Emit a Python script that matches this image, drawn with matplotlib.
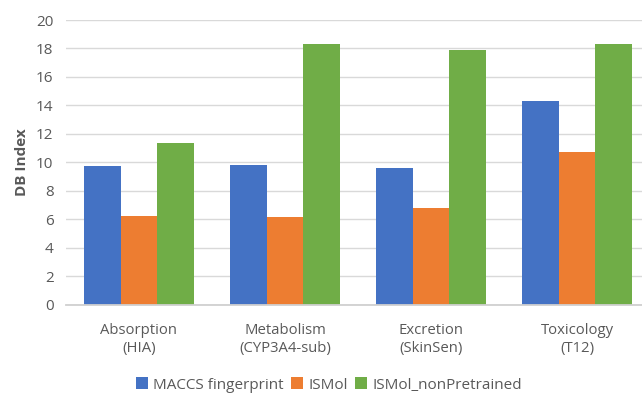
import numpy as np
import matplotlib.pyplot as plt

# data
categories = ['Absorption\n(HIA)', 'Metabolism\n(CYP3A4-sub)', 'Excretion\n(SkinSen)', 'Toxicology\n(T12)']
maccs = [9.75, 9.82, 9.6, 14.32]
ismol = [6.22, 6.15, 6.8, 10.72]
ismol_np = [11.36, 18.32, 17.9, 18.32]
series_names = ['MACCS fingerprint', 'ISMol', 'ISMol_nonPretrained']
colors = ['#4472C4', '#ED7D31', '#70AD47']

plt.rcParams['font.family'] = ['Open Sans', 'DejaVu Sans']
text_col = '#595959'

fig = plt.figure(figsize=(6.42, 3.96), dpi=100)
ax = fig.add_axes([66 / 642, 1 - 304.5 / 396, 584 / 642, 284.5 / 396])

x = np.arange(len(categories))
w = 0.25
for i, (vals, name, c) in enumerate(zip([maccs, ismol, ismol_np], series_names, colors)):
    ax.bar(x + (i - 1) * w, vals, width=w, color=c, label=name, zorder=3)

ax.set_xlim(-0.5, len(categories) - 0.5)
ax.set_ylim(0, 20)
ax.set_yticks(range(0, 21, 2))
ax.grid(axis='y', color='#d9d9d9', linewidth=1.0, zorder=0)
for s in ['top', 'right', 'left']:
    ax.spines[s].set_visible(False)
ax.spines['bottom'].set_color('#d0d0d0')
ax.spines['bottom'].set_linewidth(1.3)
ax.spines['bottom'].set_zorder(4)

ax.set_xticks(x)
ax.set_xticklabels(categories, fontsize=10.7, color=text_col, linespacing=1.35)
ax.tick_params(axis='x', length=0, pad=13)
ax.tick_params(axis='y', length=0, labelsize=11, labelcolor=text_col, pad=9)
ax.set_ylabel('DB Index', fontsize=11, fontweight='bold', color=text_col, labelpad=5)

fig.legend(loc='center', bbox_to_anchor=(329 / 642, 1 - 385 / 396), ncol=3, frameon=False,
           fontsize=11, labelcolor=text_col, handlelength=0.8, handleheight=0.8,
           handletextpad=0.35, columnspacing=0.45)

fig.savefig('out.png', dpi=100)
